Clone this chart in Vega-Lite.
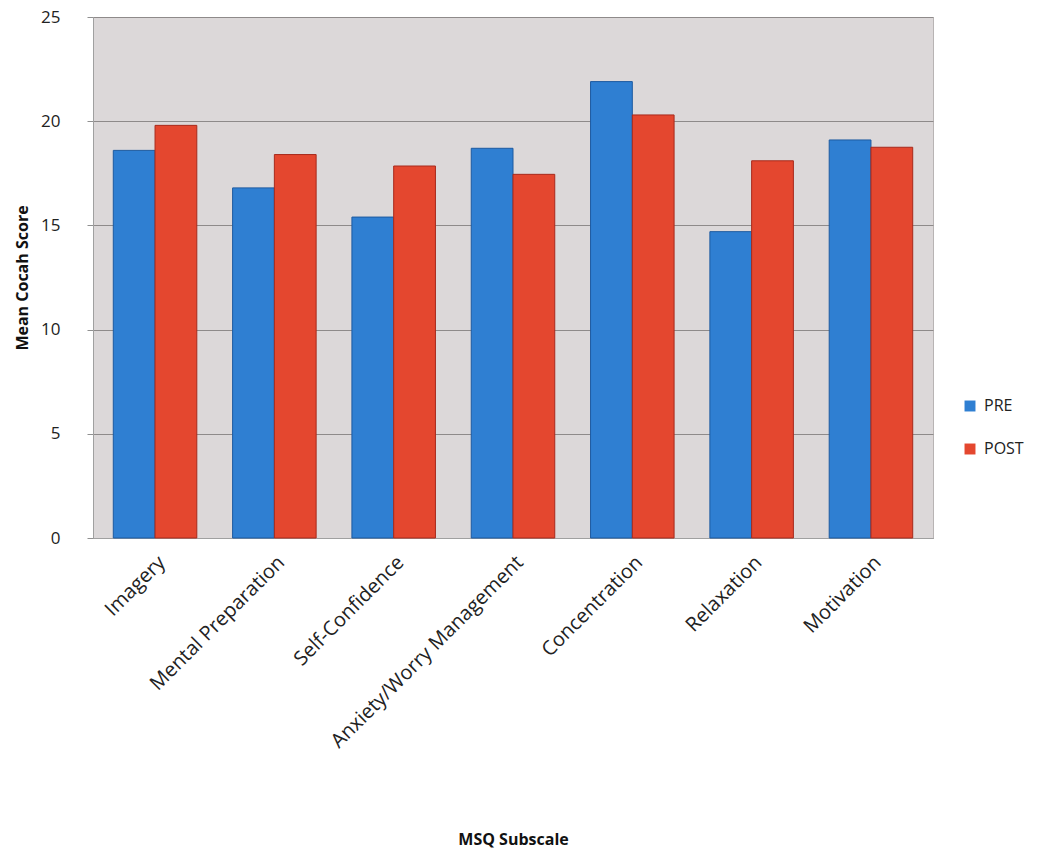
{
  "$schema": "https://vega.github.io/schema/vega-lite/v6.json",
  "width": 840,
  "height": 521,
  "autosize": "none",
  "padding": {"left": 93, "top": 17, "right": 111, "bottom": 316},
  "background": "white",
  "config": {
    "font": "Open Sans",
    "view": {"fill": "#dcd8d9", "stroke": "#b8b4b4"}
  },
  "data": {
    "values": [
      {"subscale": "Imagery", "phase": "PRE", "score": 18.6},
      {"subscale": "Imagery", "phase": "POST", "score": 19.8},
      {"subscale": "Mental Preparation", "phase": "PRE", "score": 16.8},
      {"subscale": "Mental Preparation", "phase": "POST", "score": 18.4},
      {"subscale": "Self-Confidence", "phase": "PRE", "score": 15.4},
      {"subscale": "Self-Confidence", "phase": "POST", "score": 17.85},
      {"subscale": "Anxiety/Worry Management", "phase": "PRE", "score": 18.7},
      {"subscale": "Anxiety/Worry Management", "phase": "POST", "score": 17.45},
      {"subscale": "Concentration", "phase": "PRE", "score": 21.9},
      {"subscale": "Concentration", "phase": "POST", "score": 20.3},
      {"subscale": "Relaxation", "phase": "PRE", "score": 14.7},
      {"subscale": "Relaxation", "phase": "POST", "score": 18.1},
      {"subscale": "Motivation", "phase": "PRE", "score": 19.1},
      {"subscale": "Motivation", "phase": "POST", "score": 18.75}
    ]
  },
  "mark": {"type": "bar", "strokeWidth": 1},
  "encoding": {
    "x": {
      "field": "subscale",
      "type": "nominal",
      "sort": null,
      "scale": {"paddingInner": 0.3, "paddingOuter": 0.17},
      "axis": {
        "title": "MSQ Subscale",
        "titleFontSize": 16,
        "titleFontWeight": "bold",
        "titleColor": "#111",
        "titlePadding": 93,
        "labelAngle": -45,
        "labelFontSize": 20,
        "labelLimit": 400,
        "labelColor": "#222",
        "labelPadding": 14,
        "ticks": false,
        "domain": true,
        "domainColor": "#a0a0a0"
      }
    },
    "xOffset": {"field": "phase", "type": "nominal", "sort": ["PRE", "POST"]},
    "y": {
      "field": "score",
      "type": "quantitative",
      "scale": {"domain": [0, 25]},
      "axis": {
        "title": "Mean Cocah Score",
        "titleFontSize": 16,
        "titleFontWeight": "bold",
        "titleColor": "#111",
        "titlePadding": 10,
        "values": [0, 5, 10, 15, 20, 25],
        "labelFontSize": 17,
        "labelColor": "#222",
        "labelPadding": 27,
        "tickColor": "#909090",
        "tickSize": 6,
        "domainColor": "#a0a0a0",
        "gridColor": "#8e8a8a",
        "gridWidth": 1
      }
    },
    "color": {
      "field": "phase",
      "type": "nominal",
      "sort": ["PRE", "POST"],
      "scale": {"domain": ["PRE", "POST"], "range": ["#2f7fd2", "#e4472f"]},
      "legend": {
        "title": null,
        "orient": "none",
        "legendX": 869,
        "legendY": 381,
        "symbolType": "square",
        "symbolSize": 120,
        "symbolStrokeWidth": 0,
        "labelFontSize": 16,
        "labelColor": "#222",
        "labelOffset": 6,
        "rowPadding": 27
      }
    },
    "stroke": {
      "field": "phase",
      "type": "nominal",
      "scale": {"domain": ["PRE", "POST"], "range": ["#1d5aa0", "#a82a1c"]},
      "legend": null
    }
  }
}
